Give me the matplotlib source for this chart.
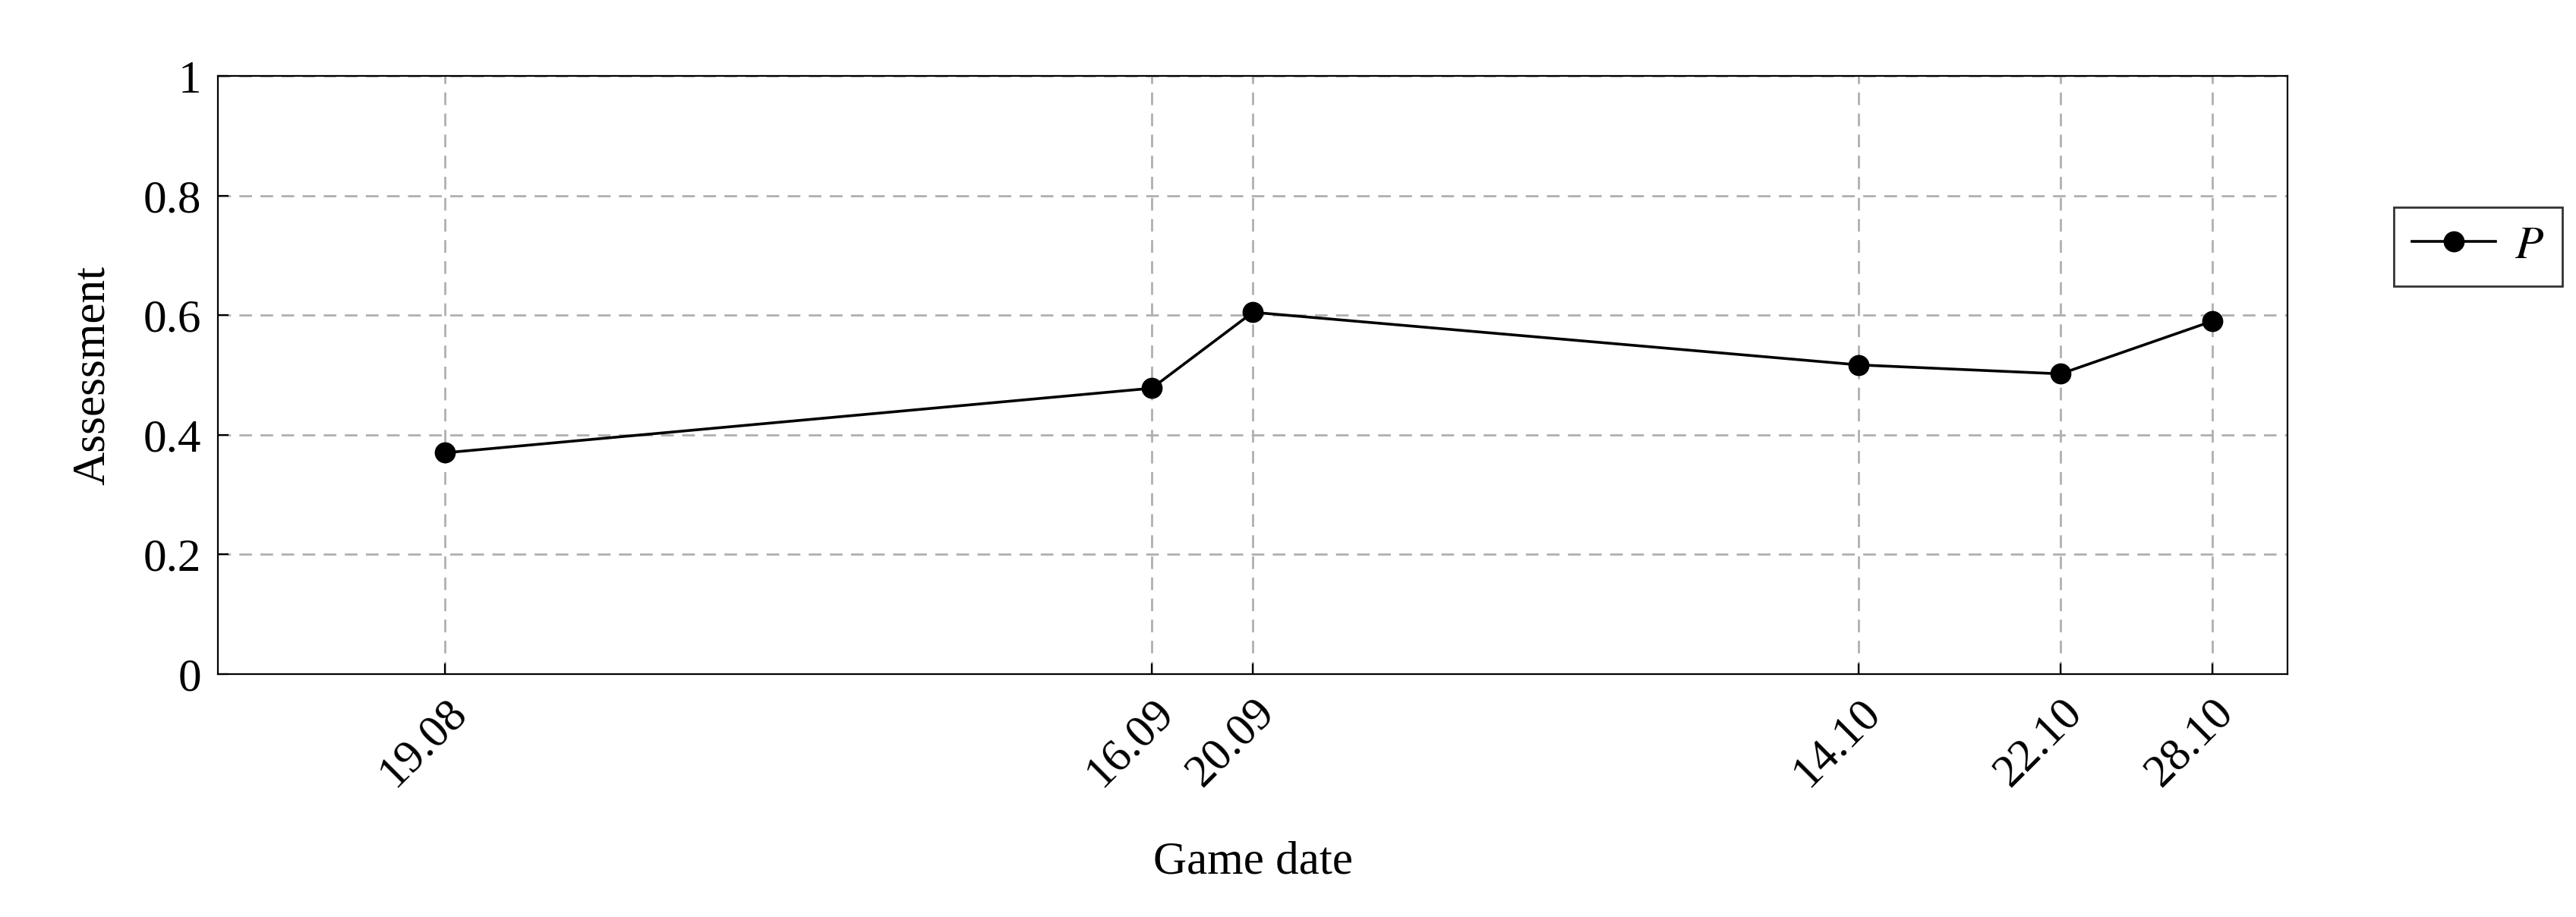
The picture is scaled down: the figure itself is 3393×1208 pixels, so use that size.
import matplotlib.pyplot as plt

# Данные
days = [0, 28, 32, 56, 64, 70]  # дни от 19.08
labels = ['19.08', '16.09', '20.09', '14.10', '22.10', '28.10']
values = [0.37, 0.478, 0.605, 0.517, 0.502, 0.59]

plt.rcParams['font.family'] = ['Liberation Serif', 'DejaVu Serif']
plt.rcParams['mathtext.fontset'] = 'stix'

fig = plt.figure(figsize=(16.965, 6.04), dpi=200)
ax = fig.add_axes([0.0846, 0.265, 0.8035, 0.652])

ax.plot(days, values, color='black', marker='o', markersize=9, linewidth=1.3, label='$P$')

ax.set_xlim(-9, 73)
ax.set_ylim(0, 1)
ax.set_xticks(days)
ax.set_xticklabels(labels, rotation=45, fontsize=22, ha='right', rotation_mode='anchor')
ax.set_yticks([0, 0.2, 0.4, 0.6, 0.8, 1])
ax.set_yticklabels(['0', '0.2', '0.4', '0.6', '0.8', '1'], fontsize=22)
ax.tick_params(direction='in', length=5, pad=8)
ax.set_xlabel('Game date', fontsize=22, labelpad=22)
ax.set_ylabel('Assessment', fontsize=22, labelpad=14)

ax.grid(True, linestyle=(0, (6, 4)), color='#b0b0b0', linewidth=1)
ax.legend(loc='upper left', bbox_to_anchor=(1.04, 0.82), fontsize=22,
          frameon=True, fancybox=False, edgecolor='black', handlelength=1.8,
          handletextpad=0.4, borderpad=0.4)

plt.savefig('out.png')
